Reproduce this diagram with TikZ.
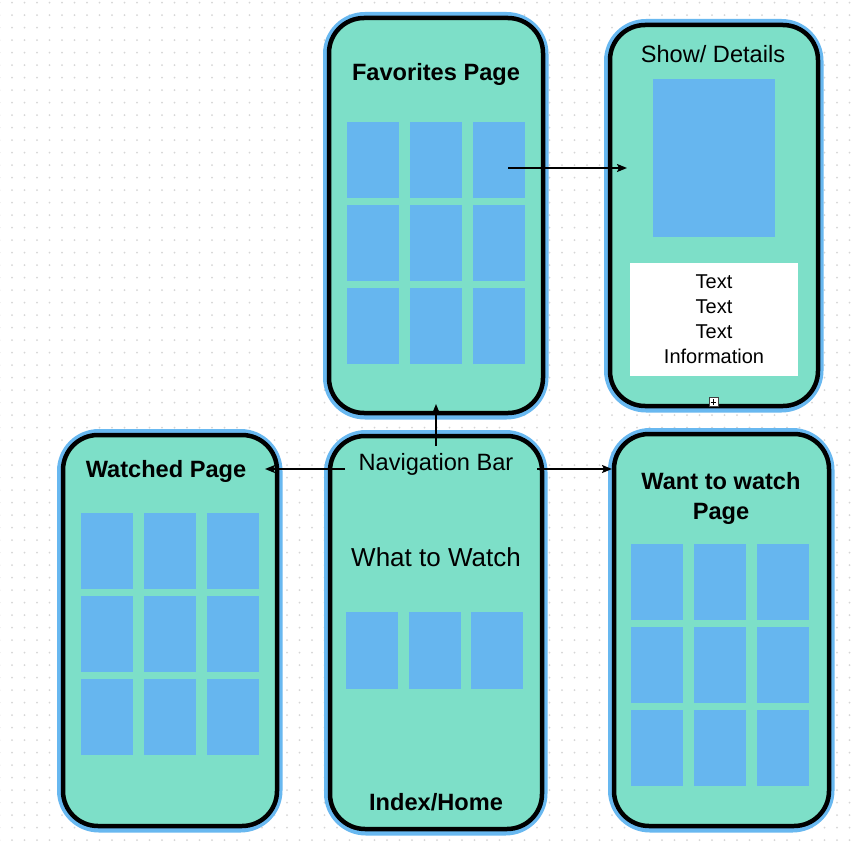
\documentclass[tikz,border=0pt]{standalone}
\usepackage{fontspec}
\setmainfont{Liberation Sans}
\usetikzlibrary{arrows.meta}

\definecolor{screenteal}{RGB}{125,223,200}
\definecolor{tileblue}{RGB}{102,182,239}
\definecolor{haloblue}{RGB}{104,184,240}
\definecolor{griddot}{RGB}{214,214,214}

\tikzset{
  x=1pt, y=-1pt,
  screen/.style={draw=black, line width=4.5pt, fill=screenteal,
    rounded corners=35pt, inner sep=0pt, outer sep=0pt, anchor=north west},
  halo/.style={draw=haloblue, line width=10pt, rounded corners=37pt},
  tile/.style={fill=tileblue, inner sep=0pt, outer sep=0pt, anchor=north west,
    minimum width=52pt, minimum height=76pt},
  heading/.style={font=\bfseries\fontsize{23.6}{30}\selectfont, align=center},
  caption/.style={font=\fontsize{23.6}{30}\selectfont},
  link/.style={line width=1.8pt, -{Stealth[length=10pt,width=8pt,inset=2pt]}},
}

% phone screen: name, left, top, right, bottom (stroke centre line)
\newcommand\phonescreen[5]{%
  \draw[halo] (#2-1,#3-1) rectangle (#4+0.5,#5+1.5);
  \node[screen, minimum width={#4pt-#2pt}, minimum height={#5pt-#3pt}] (#1) at (#2,#3) {};
}

% grid of tiles: prefix, first column x, column step, first row y, row step, rows
\newcommand\tilegrid[6]{%
  \foreach \r in {1,...,#6} {
    \foreach \c in {1,2,3} {
      \node[tile] (#1-\r-\c) at ({#2+(\c-1)*#3},{#4+(\r-1)*#5}) {};
    }
  }
}

\begin{document}
\begin{tikzpicture}
  \useasboundingbox (0,0) rectangle (860,851);
  \fill[white] (0,0) rectangle (860,851);

  % dotted canvas
  \foreach \i in {-1,...,68} {
    \foreach \j in {0,...,68} {
      \fill[griddot] ({12+12.5*\i},{2.7+12.5*\j}) circle (1);
    }
  }

  % screens
  \phonescreen{fav}{329}{18}{543}{413}
  \phonescreen{show}{610}{25}{818}{406}
  \phonescreen{watched}{63}{435}{277}{826}
  \phonescreen{home}{330}{436}{542}{829}
  \phonescreen{want}{614}{434}{829}{826}

  % favorites page
  \node[heading, anchor=base] (favtitle) at (436,81) {Favorites Page};
  \tilegrid{fav}{347}{63}{122}{83}{3}

  % show details page
  \node[caption, anchor=base] (showtitle) at (713,63) {Show/ Details};
  \node[fill=tileblue, inner sep=0pt, anchor=north west,
        minimum width=122pt, minimum height=158pt] (poster) at (653,79) {};
  \node[fill=white, inner sep=0pt, minimum width=168pt, minimum height=113pt,
        align=center, font=\fontsize{20}{25}\selectfont] (info) at (714,319.5)
        {Text\\Text\\Text\\Information};
  \node[draw=black!75, line width=0.6pt, fill=white, inner sep=0pt,
        minimum size=9pt] (addbtn) at (713.5,402) {};
  \draw[line width=0.6pt] ([xshift=-2.8pt]addbtn.center) -- ([xshift=2.8pt]addbtn.center)
                          ([yshift=-2.8pt]addbtn.center) -- ([yshift=2.8pt]addbtn.center);

  % watched page
  \node[heading, anchor=base] (watchedtitle) at (166,477) {Watched Page};
  \tilegrid{watched}{81}{63}{513}{83}{3}

  % want to watch page
  \node[heading] (wanttitle) at (721,498) {Want to watch\\Page};
  \tilegrid{want}{631}{63}{544}{83}{3}

  % index / home
  \node[caption, anchor=base] (nav) at (436,470) {Navigation Bar};
  \node[font=\fontsize{26}{30}\selectfont, anchor=base] (whattowatch) at (436,566) {What to Watch};
  \foreach \c/\x in {1/346,2/409,3/471} {
    \node[tile, minimum height=77pt] (home-\c) at (\x,612) {};
  }
  \node[heading, anchor=base] (hometitle) at (436,810) {Index/Home};

  % navigation links
  \coordinate (favout) at (508,168);
  \coordinate (showin) at (627,168);
  \coordinate (navup) at (436,446);
  \coordinate (favin) at (436,404);
  \coordinate (navleft) at (345,469);
  \coordinate (watchedin) at (265,469);
  \coordinate (navright) at (537,469);
  \coordinate (wantin) at (612,469);

  \draw[link] (favout) -- (showin);
  \draw[link] (navup) -- (favin);
  \draw[link] (navleft) -- (watchedin);
  \draw[link] (navright) -- (wantin);
\end{tikzpicture}
\end{document}
